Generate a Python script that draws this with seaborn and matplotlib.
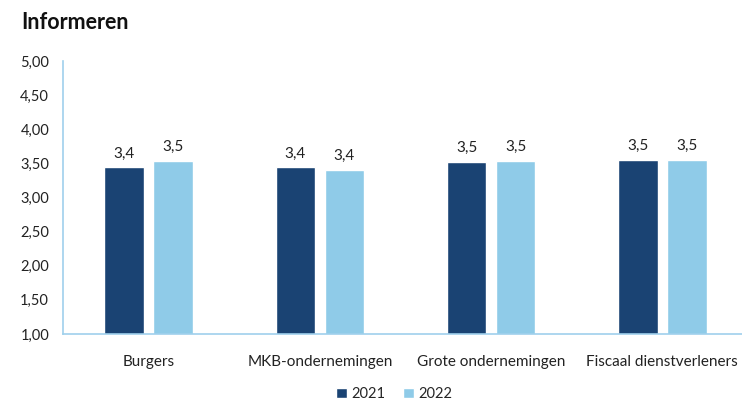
import matplotlib
matplotlib.use("Agg")
import matplotlib.pyplot as plt
import seaborn as sns
import pandas as pd

categories = ["Burgers", "MKB-ondernemingen", "Grote ondernemingen", "Fiscaal dienstverleners"]
years = ["2021", "2022"]
values_2021 = [3.44, 3.44, 3.52, 3.55]
values_2022 = [3.53, 3.40, 3.53, 3.55]
y_ticks = [1.0, 1.5, 2.0, 2.5, 3.0, 3.5, 4.0, 4.5, 5.0]

df = pd.DataFrame({
    "categorie": categories * 2,
    "jaar": [years[0]] * 4 + [years[1]] * 4,
    "score": values_2021 + values_2022,
})

sns.set_theme(style="white")
plt.rcParams['font.family'] = ['Lato', 'DejaVu Sans']

dark = "#1A4373"
light = "#8FCBE8"
spine_c = "#9FD0EC"
txt = "#222222"

fig = plt.figure(figsize=(7.42, 4.01), dpi=100)
ax = fig.add_axes([63 / 742, 1 - 334 / 401, (742 - 63) / 742, (334 - 61) / 401])

sns.barplot(data=df, x="categorie", y="score", hue="jaar", order=categories,
            hue_order=years, palette=[dark, light], width=0.57, gap=0.19,
            saturation=1, ax=ax, legend=True)

for cont in ax.containers:
    labels = [f"{v:.1f}".replace(".", ",") for v in cont.datavalues]
    ax.bar_label(cont, labels=labels, padding=5, fontsize=11, color=txt)

ax.set_ylim(1.0, 5.0)
ax.set_xlim(-0.5, 3.465)
ax.set_yticks(y_ticks)
ax.set_yticklabels([f"{t:.2f}".replace(".", ",") for t in y_ticks], fontsize=10.5, color=txt)
ax.tick_params(axis="y", length=0, pad=10)
ax.tick_params(axis="x", length=0, pad=15, labelsize=11, labelcolor=txt)
ax.set_xlabel("")
ax.set_ylabel("")
for s in ["top", "right"]:
    ax.spines[s].set_visible(False)
for s in ["left", "bottom"]:
    ax.spines[s].set_color(spine_c)
    ax.spines[s].set_linewidth(1.2)

handles, labels = ax.get_legend_handles_labels()
ax.legend_.remove()
fig.legend(handles, labels, loc="center", bbox_to_anchor=(394 / 742, 1 - 394 / 401),
           ncol=2, frameon=False, fontsize=10.5, handlelength=0.75, handleheight=0.75,
           handletextpad=0.3, columnspacing=1.2, borderpad=0)

fig.text(21 / 742, 1 - 22.5 / 401, "Informeren", fontsize=15.5, fontweight="bold",
         va="center", ha="left", color="#111111")

fig.savefig("out.png", dpi=100)
